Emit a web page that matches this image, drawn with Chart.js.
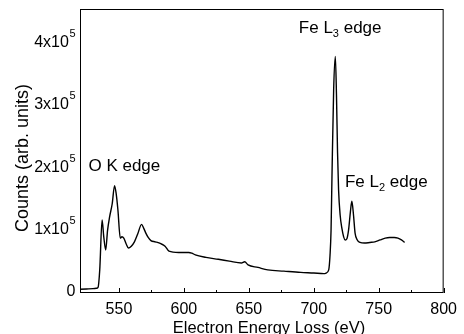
<!DOCTYPE html>
<html>
<head>
<meta charset="utf-8">
<script src="https://cdn.jsdelivr.net/npm/chart.js@4/dist/chart.umd.min.js"></script>
<style>
  html, body { margin: 0; padding: 0; background: #fff; }
</style>
</head>
<body>
<canvas id="eelsChart" width="464" height="334"></canvas>
<script>
// spectrum (eV, counts)
var energy = [520, 525, 530, 532.5, 533.9, 535.2, 537, 538.3, 539.8, 541.2, 542.8, 544.8, 546.6, 547.8,
    549.2, 551, 552.3, 553.7, 555.5, 557.3, 559.5, 561.9, 564.5, 567.4, 569, 570.7, 572.5, 574.6, 578,
    582.2, 585.5, 588.5, 596, 603.7, 606, 608.8, 617, 626.5, 635, 644.3, 646.8, 649.4, 657, 664.6, 677,
    689.9, 700, 707.7, 709.5, 711.5, 712.5, 713.3, 714, 715.3, 716.6, 717.5, 718.3, 719.1, 720.3, 721.7,
    723, 724.2, 725.5, 726.8, 728.2, 729.3, 730.5, 731.8, 733.5, 735.6, 739, 743.2, 747, 751, 755, 758.4,
    762, 764.8, 767.5, 769.9];
var counts = [1000, 1500, 2000, 2500, 4000, 32000, 112000, 85000, 64000, 95000, 117000, 138000, 167000, 155000,
    128000, 83000, 85000, 83000, 74000, 67000, 70000, 77000, 90000, 105000, 99000, 91000, 84000, 79000, 77000,
    74000, 70000, 62000, 60000, 60000, 59000, 56000, 52000, 49000, 46000, 43000, 45000, 40000, 36000, 32000, 30000,
    28000, 27000, 26000, 27000, 32000, 55000, 95000, 180000, 320000, 374000, 310000, 220000, 160000, 120000, 98000,
    85000, 80000, 82000, 96000, 125000, 142000, 122000, 91000, 80000, 76000, 75000, 76000, 77000, 80000, 83000, 84000,
    84000, 83000, 80000, 76000];

var xTickLabels = [550, 600, 650, 700, 750, 800];
var yTickValues = [0, 100000, 200000, 300000, 400000];
var yTickLabels = ['0', '1x10^5', '2x10^5', '3x10^5', '4x10^5'];

// [text, subscript, rest, energy, counts] for the edge labels
var edgeLabels = [
    ['O K edge', '', '', 526.5, 191000],
    ['Fe L', '3', ' edge', 688.5, 411000],
    ['Fe L', '2', ' edge', 724, 165500]
];

var FONT = '"Liberation Sans", Arial, sans-serif';

var points = energy.map(function (e, i) { return { x: e, y: counts[i] }; });

var frameAndText = {
    id: 'frameAndText',
    afterDraw: function (chart) {
        var ctx = chart.ctx;
        var a = chart.chartArea;
        var xs = chart.scales.x;
        var ys = chart.scales.y;
        ctx.save();
        ctx.strokeStyle = '#000';
        ctx.lineWidth = 1;
        ctx.strokeRect(a.left + 0.5, a.top + 0.5, a.right - a.left - 1, a.bottom - a.top - 1);

        // inward ticks
        ctx.beginPath();
        xs.ticks.forEach(function (t) {
            var px = Math.round(xs.getPixelForValue(t.value)) + 0.5;
            var len = xTickLabels.indexOf(t.value) >= 0 ? 5 : 3;
            ctx.moveTo(px, a.bottom);
            ctx.lineTo(px, a.bottom - len);
        });
        ys.ticks.forEach(function (t) {
            var py = Math.round(ys.getPixelForValue(t.value)) + 0.5;
            var len = yTickValues.indexOf(t.value) >= 0 ? 5 : 3;
            ctx.moveTo(a.left, py);
            ctx.lineTo(a.left + len, py);
        });
        ctx.stroke();

        // y tick labels with superscript exponent
        ctx.fillStyle = '#000';
        ctx.textBaseline = 'alphabetic';
        yTickValues.forEach(function (v, i) {
            var py = ys.getPixelForValue(v);
            var parts = yTickLabels[i].split('^');
            var right = a.left - 4.5;
            if (parts.length > 1) {
                ctx.font = '11px ' + FONT;
                ctx.textAlign = 'right';
                ctx.fillText(parts[1], right, py - 3.5);
                right -= ctx.measureText(parts[1]).width + 0.5;
            }
            ctx.font = '16px ' + FONT;
            ctx.textAlign = 'right';
            ctx.fillText(parts[0], right, py + 6.5);
        });

        // axis titles
        ctx.font = '16.5px ' + FONT;
        ctx.textAlign = 'center';
        ctx.fillText('Electron Energy Loss (eV)', 269, 332.5);
        ctx.save();
        ctx.translate(28, 158);
        ctx.rotate(-Math.PI / 2);
        ctx.font = '18px ' + FONT;
        ctx.fillText('Counts (arb. units)', 0, 0);
        ctx.restore();

        // edge labels
        ctx.textAlign = 'left';
        edgeLabels.forEach(function (l) {
            var px = xs.getPixelForValue(l[3]);
            var py = ys.getPixelForValue(l[4]);
            ctx.font = '17px ' + FONT;
            ctx.fillText(l[0], px, py);
            px += ctx.measureText(l[0]).width;
            if (l[1]) {
                ctx.font = '11px ' + FONT;
                ctx.fillText(l[1], px, py + 4);
                px += ctx.measureText(l[1]).width;
                ctx.font = '17px ' + FONT;
                ctx.fillText(l[2], px, py);
            }
        });
        ctx.restore();
    }
};

var ctx = document.getElementById('eelsChart').getContext('2d');
var eelsChart = new Chart(ctx, {
    type: 'line',
    data: {
        datasets: [{
            data: points,
            borderColor: '#000',
            borderWidth: 1.4,
            pointRadius: 0,
            fill: false,
            cubicInterpolationMode: 'monotone'
        }]
    },
    options: {
        responsive: false,
        animation: false,
        devicePixelRatio: 1,
        layout: { padding: { top: 9, right: 16, left: 0, bottom: 0 } },
        plugins: {
            legend: { display: false },
            tooltip: { enabled: false }
        },
        scales: {
            x: {
                type: 'linear',
                min: 520,
                max: 800,
                afterBuildTicks: function (scale) {
                    scale.ticks = scale.ticks.filter(function (t) { return t.value % 25 === 0; });
                },
                afterFit: function (scale) { scale.height = 41; },
                grid: { display: false, drawTicks: false },
                border: { display: false },
                ticks: {
                    stepSize: 25,
                    autoSkip: false,
                    maxRotation: 0,
                    padding: 7,
                    color: '#000',
                    font: { family: FONT, size: 16 },
                    callback: function (v) { return xTickLabels.indexOf(v) >= 0 ? String(v) : ''; }
                }
            },
            y: {
                min: -5000,
                max: 450000,
                afterBuildTicks: function (scale) {
                    scale.ticks = scale.ticks.filter(function (t) { return t.value % 50000 === 0 && t.value >= 0 && t.value < 450000; });
                },
                afterFit: function (scale) { scale.width = 80; },
                grid: { display: false, drawTicks: false },
                border: { display: false },
                ticks: { display: false, stepSize: 50000 }
            }
        }
    },
    plugins: [frameAndText]
});
</script>
</body>
</html>
